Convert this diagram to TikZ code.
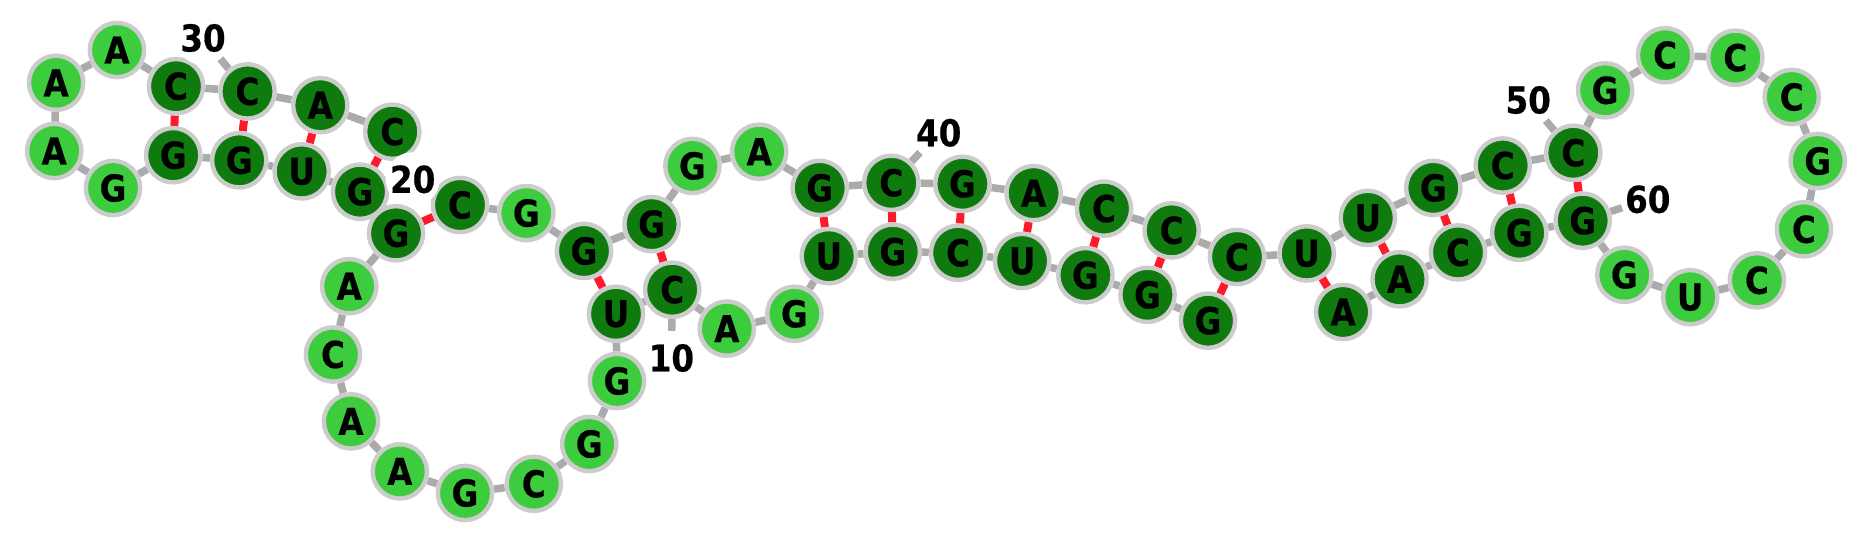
\documentclass[tikz,border=0pt]{standalone}
\usepackage{fontspec}
\newfontfamily\basefont[FakeStretch=0.88,FakeBold=0.5]{DejaVu Sans Bold}
\usetikzlibrary{backgrounds}
\definecolor{pairedgreen}{HTML}{0F7B0F}
\definecolor{loopgreen}{HTML}{3DCC3D}
\definecolor{rimgray}{HTML}{CCCCCC}
\definecolor{strandgray}{HTML}{ABABAB}
\definecolor{bondred}{HTML}{FF1A2B}
\tikzset{
  base/.style={circle, draw=rimgray, line width=4.4pt, minimum size=54.3pt, inner sep=0pt,
    font=\basefont\fontsize{37}{37}\selectfont, text=black},
  paired/.style={base, fill=pairedgreen},
  unpaired/.style={base, fill=loopgreen},
  strand/.style={draw=strandgray, line width=7.5pt},
  bond/.style={draw=bondred, line width=8pt},
  tick/.style={circle, fill=white, minimum size=54pt, inner sep=0pt, outer sep=0pt,
    font=\basefont\fontsize{37}{37}\selectfont, text=black}
}
\begin{document}
\begin{tikzpicture}[x=1pt, y=-1pt]
        \useasboundingbox (0, 0) rectangle (1856, 540);
        \foreach \i/\x/\y/\l in {64/1343.1/312/A, 63/1399.6/279.3/A, 62/1458/252.4/C, 61/1519.2/232.8/G, 60/1582.7/220.7/G,
            50/1573.3/152.8/C, 49/1502.7/165.5/C, 48/1433.3/187.9/G, 47/1367.8/217.9/U, 46/1306.7/253.4/U,
            45/1237/257/C, 44/1171.6/230.3/C, 43/1104/208.6/C, 42/1033.6/193.1/A, 41/962.4/183.8/G, 40/891.3/182.8/C, 39/819.7/187.9/G,
            36/651.6/224.1/G, 35/584/251/G, 33/460/205/C, 32/392.3/131.7/C, 31/320.3/105.2/A, 30/247.5/91.4/C, 29/176/86.2/C,
            24/173.2/155.2/G, 23/239.2/160.3/G, 22/301.7/171.4/U, 21/360/191.7/G, 20/396/233.3/G,
            11/616/313.8/U, 10/672.2/289.7/C, 7/828.8/256.2/U, 6/892.8/251.7/G, 5/958.1/252.8/C, 4/1022.1/261/U, 3/1085.4/275.2/G, 2/1147.5/294.8/G, 1/1208/320.7/G}
          \node[paired] (n\i) at (\x, \y) {\l};
        \foreach \i/\x/\y/\l in {59/1624.3/274.8/G, 58/1690.2/297.2/U, 57/1756.9/280.3/C, 56/1803.9/229.3/C, 55/1817.7/161/G, 54/1791.7/97/C,
            53/1735.3/57.7/C, 52/1665.1/55.2/C, 51/1605.1/90.3/G, 38/759.2/151.7/A, 37/692.4/165.9/G, 34/526.3/213.1/G,
            28/117/50/A, 27/56.1/82.8/A, 26/54.2/151/A, 25/113/188/G, 19/349.2/286.2/A, 18/333/354.5/C, 17/351/421.4/A, 16/399.8/471.4/A,
            15/465/493/G, 14/533.8/483.8/C, 13/589.2/444/G, 12/617/381/G, 9/726.8/328.6/A, 8/794.4/313.8/G}
          \node[unpaired] (n\i) at (\x, \y) {\l};
        \node[tick] (t10) at (671.4, 358) {10};
        \node[tick] (t20) at (412.7, 179.3) {20};
        \node[tick] (t30) at (203, 38) {30};
        \node[tick] (t40) at (938.7, 132.8) {40};
        \node[tick] (t50) at (1528.2, 100) {50};
        \node[tick] (t60) at (1647.8, 199.3) {60};
        \begin{scope}[on background layer]
          \foreach \i [evaluate=\i as \j using int(\i+1)] in {1,...,31,33,34,...,63}
            \draw[strand] (n\i) -- (n\j);
          \foreach \a/\b in {1/45, 2/44, 3/43, 4/42, 5/41, 6/40, 7/39, 10/36, 11/35, 20/33, 21/32, 22/31, 23/30, 24/29, 46/64, 47/63, 48/62, 49/61, 50/60}
            \draw[bond] (n\a) -- (n\b);
          \foreach \i in {10, 30, 40, 50, 60}
            \draw[strand] (n\i) -- (t\i);
        \end{scope}
      \end{tikzpicture}
\end{document}
